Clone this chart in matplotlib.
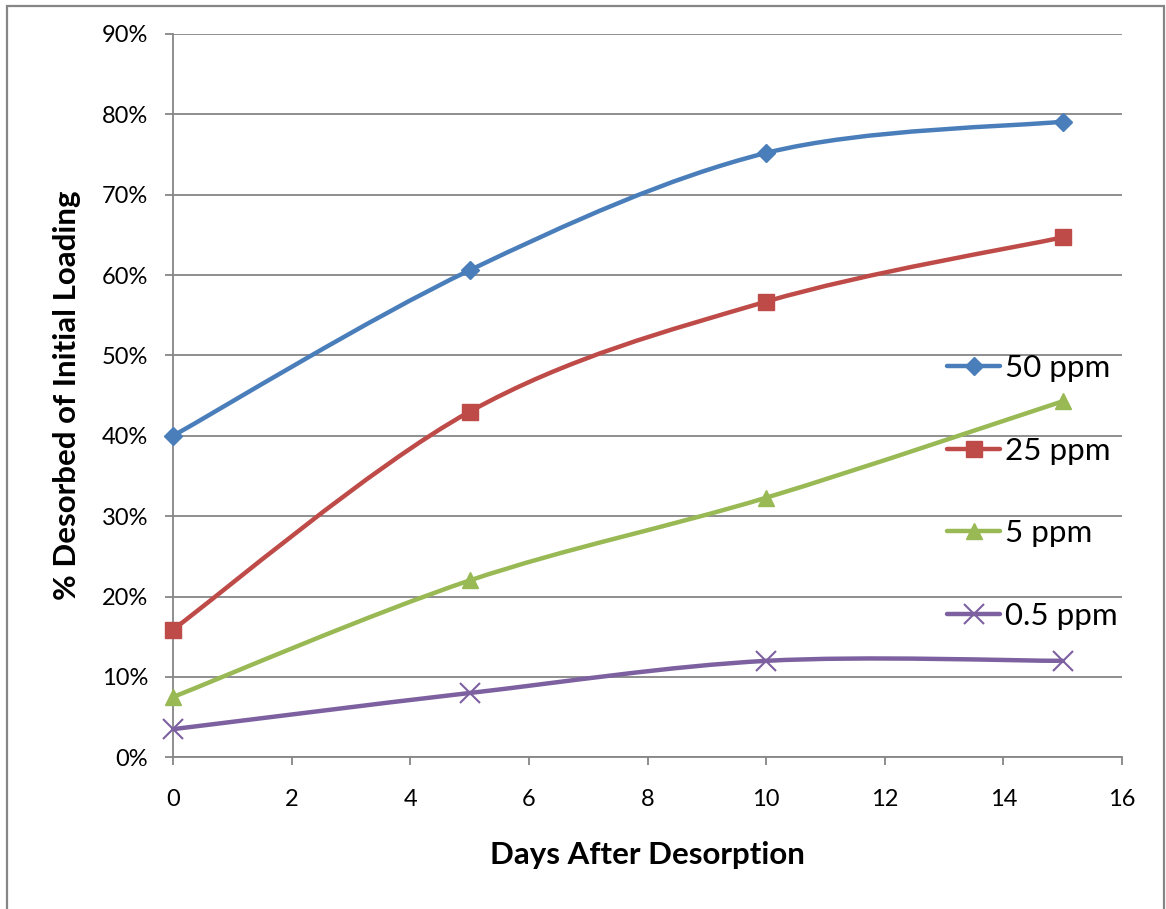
import matplotlib
matplotlib.use("Agg")
import matplotlib.pyplot as plt
from matplotlib.path import Path
from matplotlib.patches import PathPatch, Rectangle
from matplotlib.lines import Line2D
from matplotlib.ticker import PercentFormatter

# --- data ---
days = [0, 5, 10, 15]
ppm_50 = [40.0, 60.6, 75.2, 79.1]
ppm_25 = [15.9, 43.0, 56.7, 64.7]
ppm_5 = [7.5, 22.0, 32.3, 44.3]
ppm_05 = [3.5, 8.0, 12.0, 12.0]
series_labels = ["50 ppm", "25 ppm", "5 ppm", "0.5 ppm"]

colors = ["#4A7EBB", "#BE4B48", "#98B954", "#7D60A0"]
markers = ["D", "s", "^", "x"]
msizes = [9, 12, 12, 14]

plt.rcParams["font.family"] = ["Lato", "DejaVu Sans"]


def smooth_path(xs, ys):
    """Excel-like smoothed line: Bezier segments through the points."""
    pts = list(zip(xs, ys))
    n = len(pts)
    verts = [pts[0]]
    codes = [Path.MOVETO]
    for i in range(n - 1):
        p0 = pts[i - 1] if i > 0 else pts[i]
        p1 = pts[i]
        p2 = pts[i + 1]
        p3 = pts[i + 2] if i + 2 < n else pts[i + 1]
        c1 = (p1[0] + (p2[0] - p0[0]) / 6, p1[1] + (p2[1] - p0[1]) / 6)
        c2 = (p2[0] - (p3[0] - p1[0]) / 6, p2[1] - (p3[1] - p1[1]) / 6)
        verts += [c1, c2, p2]
        codes += [Path.CURVE4] * 3
    return Path(verts, codes)


fig = plt.figure(figsize=(11.66, 9.09), dpi=100)
ax = fig.add_axes([0.1484, 0.1669, 0.8139, 0.7957])

all_series = [ppm_50, ppm_25, ppm_5, ppm_05]
handles = []
for vals, col, mk, ms, lab in zip(all_series, colors, markers, msizes, series_labels):
    patch = PathPatch(smooth_path(days, vals), facecolor="none", edgecolor=col,
                      lw=3.2, capstyle="round", joinstyle="round", zorder=3)
    ax.add_patch(patch)
    mew = 1.5 if mk == "x" else 1
    ax.plot(days, vals, linestyle="none", marker=mk, markersize=ms, color=col,
            markeredgewidth=mew, zorder=4, clip_on=False)
    handles.append(Line2D([], [], color=col, lw=3.2, marker=mk, markersize=ms,
                          markeredgewidth=mew, solid_capstyle="round"))

ax.set_xlim(0, 16)
ax.set_ylim(0, 90)
ax.set_xticks(range(0, 17, 2))
ax.set_yticks(range(0, 91, 10))
ax.yaxis.set_major_formatter(PercentFormatter(decimals=0))

grid_col = "#868686"
ax.grid(axis="y", color=grid_col, lw=1.3)
ax.set_axisbelow(True)
for side in ["top", "right"]:
    ax.spines[side].set_visible(False)
for side in ["left", "bottom"]:
    ax.spines[side].set_color(grid_col)
    ax.spines[side].set_linewidth(1.3)
ax.tick_params(axis="both", color=grid_col, width=1.3, length=6, labelsize=17)
ax.tick_params(axis="y", pad=12)
ax.tick_params(axis="x", pad=17)

ax.set_xlabel("Days After Desorption", fontsize=22.5, fontweight="bold", labelpad=22)
ax.set_ylabel("% Desorbed of Initial Loading", fontsize=22.5, fontweight="bold", labelpad=15)

ax.legend(handles=handles, labels=series_labels, loc="center left",
          bbox_to_anchor=(947 / 1166, 1 - 492 / 909), bbox_transform=fig.transFigure,
          frameon=False, fontsize=22.5, handlelength=1.7, handletextpad=0.15,
          labelspacing=1.75, borderpad=0, borderaxespad=0)

# outer chart border
fig.patches.append(Rectangle((7 / 1166, -0.02), 1157 / 1166, 1.02 - 6 / 909,
                             transform=fig.transFigure, fill=False,
                             edgecolor="#868686", lw=1.6))

fig.savefig("out.png", dpi=100)
